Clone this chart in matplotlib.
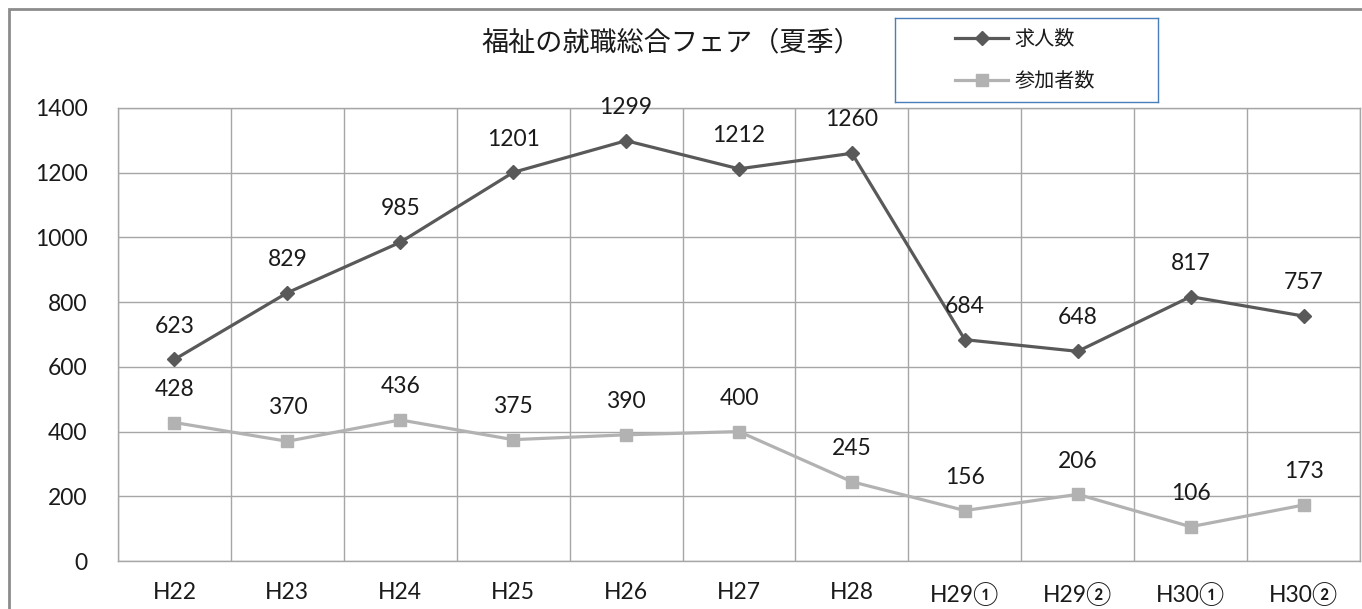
import matplotlib
matplotlib.use("Agg")
import matplotlib.pyplot as plt
from matplotlib.patches import Rectangle

plt.rcParams['font.family'] = ['Lato', 'Noto Sans CJK JP', 'DejaVu Sans']

# data
categories = ["H22", "H23", "H24", "H25", "H26", "H27", "H28",
              "H29①", "H29②", "H30①", "H30②"]
jobs = [623, 829, 985, 1201, 1299, 1212, 1260, 684, 648, 817, 757]
participants = [428, 370, 436, 375, 390, 400, 245, 156, 206, 106, 173]
series_names = ["求人数", "参加者数"]
yticks = [0, 200, 400, 600, 800, 1000, 1200, 1400]

dark = "#595959"
light = "#b2b2b2"
grid_c = "#a6a6a6"
txt_c = "#1a1a1a"

fig = plt.figure(figsize=(13.62, 6.09), dpi=100)
ax = fig.add_axes([118 / 1362, 48 / 609, 1242 / 1362, 453 / 609])

x = list(range(len(categories)))
ax.plot(x, jobs, color=dark, lw=2.3, marker="D", ms=7)
ax.plot(x, participants, color=light, lw=2.3, marker="s", ms=9)

for series in (jobs, participants):
    for xi, v in zip(x, series):
        ax.annotate(str(v), (xi, v), xytext=(0, 24), textcoords="offset points",
                    ha="center", va="center", fontsize=16.5, color=txt_c)

ax.set_xlim(-0.5, len(categories) - 0.5)
ax.set_ylim(0, 1400)
ax.set_yticks(yticks)
ax.set_xticks(x)
ax.set_xticklabels(categories)
ax.set_xticks([i + 0.5 for i in range(-1, len(categories))], minor=True)
ax.tick_params(axis="both", which="both", length=0, labelsize=16.5, colors=txt_c)
ax.tick_params(axis="x", pad=15)
ax.tick_params(axis="y", pad=22)
ax.grid(True, axis="y", which="major", color=grid_c, lw=1)
ax.grid(True, axis="x", which="minor", color=grid_c, lw=1)
ax.grid(False, axis="x", which="major")
ax.set_axisbelow(True)
for s in ax.spines.values():
    s.set_color(grid_c)
    s.set_linewidth(1)

fig.text(671 / 1362, 1 - 43 / 609, "福祉の就職総合フェア（夏季）", ha="center", va="center",
         fontsize=19.5, color=txt_c)

# legend box
lax = fig.add_axes([895 / 1362, 1 - 102 / 609, 263 / 1362, 84 / 609])
lax.set_xlim(0, 1)
lax.set_ylim(0, 1)
lax.set_xticks([])
lax.set_yticks([])
for s in lax.spines.values():
    s.set_color("#4a7ebb")
    s.set_linewidth(1)
lax.plot([0.228, 0.43], [0.76, 0.76], color=dark, lw=2.3)
lax.plot([0.329], [0.76], color=dark, marker="D", ms=7)
lax.plot([0.228, 0.43], [0.26, 0.26], color=light, lw=2.3)
lax.plot([0.329], [0.26], color=light, marker="s", ms=9)
lax.text(0.455, 0.76, series_names[0], va="center", ha="left", fontsize=14.5, color=txt_c)
lax.text(0.455, 0.26, series_names[1], va="center", ha="left", fontsize=14.5, color=txt_c)

# outer chart border (cut off on right and bottom)
fig.patches.append(Rectangle((9 / 1362, -0.1), 1.2, 1 - 9 / 609 + 0.1,
                             transform=fig.transFigure, fill=False,
                             edgecolor="#8c8c8c", lw=2))

fig.savefig("out.png", dpi=100)
